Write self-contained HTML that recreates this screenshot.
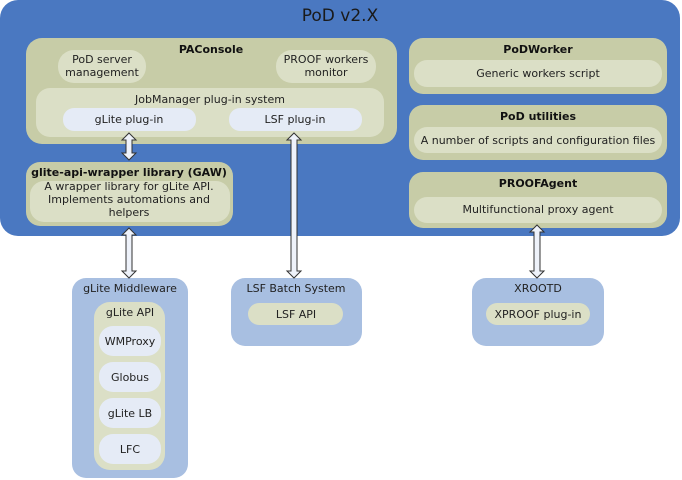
<!DOCTYPE html>
<html><head><meta charset="utf-8"><style>
html,body{margin:0;padding:0;background:#fff;}
svg{display:block;font-family:"DejaVu Sans","Liberation Sans",sans-serif;}
</style></head><body>
<svg width="682" height="480" viewBox="0 0 682 480">
<rect x="0" y="0" width="680" height="236" rx="18" fill="#4a78c1"/>
<text x="340" y="21" font-size="17" fill="#1a1a1a" text-anchor="middle">PoD v2.X</text>

<rect x="26" y="38" width="371" height="106" rx="16" fill="#c7cca7"/>
<text x="211" y="53" font-size="11" font-weight="bold" fill="#111" text-anchor="middle">PAConsole</text>
<rect x="58" y="50" width="88" height="33" rx="16" fill="#dbdfc6"/>
<text x="102" y="63" font-size="11" fill="#222" text-anchor="middle">PoD server</text>
<text x="102" y="76" font-size="11" fill="#222" text-anchor="middle">management</text>
<rect x="276" y="50" width="100" height="33" rx="16" fill="#dbdfc6"/>
<text x="326" y="63" font-size="11" fill="#222" text-anchor="middle">PROOF workers</text>
<text x="326" y="76" font-size="11" fill="#222" text-anchor="middle">monitor</text>
<rect x="36" y="88" width="348" height="49" rx="14" fill="#dbdfc6"/>
<text x="210" y="103" font-size="11" fill="#222" text-anchor="middle">JobManager plug-in system</text>
<rect x="63" y="108" width="133" height="23" rx="11" fill="#e5ebf6"/>
<text x="129" y="123" font-size="11" fill="#222" text-anchor="middle">gLite plug-in</text>
<rect x="229" y="108" width="133" height="23" rx="11" fill="#e5ebf6"/>
<text x="295" y="123" font-size="11" fill="#222" text-anchor="middle">LSF plug-in</text>

<rect x="26" y="162" width="207" height="64" rx="14" fill="#c7cca7"/>
<text x="129" y="176" font-size="11" font-weight="bold" fill="#111" text-anchor="middle">glite-api-wrapper library (GAW)</text>
<rect x="30" y="181" width="200" height="41" rx="14" fill="#dbdfc6"/>
<text x="129" y="190" font-size="11" fill="#222" text-anchor="middle">A wrapper library for gLite API.</text>
<text x="129" y="203" font-size="11" fill="#222" text-anchor="middle">Implements automations and</text>
<text x="129" y="216" font-size="11" fill="#222" text-anchor="middle">helpers</text>

<rect x="409" y="38" width="258" height="56" rx="14" fill="#c7cca7"/>
<text x="538" y="53" font-size="11" font-weight="bold" fill="#111" text-anchor="middle">PoDWorker</text>
<rect x="414" y="60" width="248" height="27" rx="13" fill="#dbdfc6"/>
<text x="538" y="77" font-size="11" fill="#222" text-anchor="middle">Generic workers script</text>
<rect x="409" y="105" width="258" height="55" rx="14" fill="#c7cca7"/>
<text x="538" y="120" font-size="11" font-weight="bold" fill="#111" text-anchor="middle">PoD utilities</text>
<rect x="414" y="127" width="248" height="26" rx="13" fill="#dbdfc6"/>
<text x="538" y="144" font-size="11" fill="#222" text-anchor="middle">A number of scripts and configuration files</text>
<rect x="409" y="172" width="258" height="56" rx="14" fill="#c7cca7"/>
<text x="538" y="187" font-size="11" font-weight="bold" fill="#111" text-anchor="middle">PROOFAgent</text>
<rect x="414" y="197" width="248" height="26" rx="13" fill="#dbdfc6"/>
<text x="538" y="213" font-size="11" fill="#222" text-anchor="middle">Multifunctional proxy agent</text>

<rect x="72" y="278" width="116" height="200" rx="14" fill="#a8bfe1"/>
<text x="130" y="292" font-size="11" fill="#222" text-anchor="middle">gLite Middleware</text>
<rect x="94" y="302" width="71" height="168" rx="16" fill="#dbdfc6"/>
<text x="130" y="316" font-size="11" fill="#222" text-anchor="middle">gLite API</text>
<rect x="99" y="326" width="62" height="30" rx="14" fill="#e5ebf6"/>
<text x="130" y="345" font-size="11" fill="#222" text-anchor="middle">WMProxy</text>
<rect x="99" y="362" width="62" height="30" rx="14" fill="#e5ebf6"/>
<text x="130" y="381" font-size="11" fill="#222" text-anchor="middle">Globus</text>
<rect x="99" y="398" width="62" height="30" rx="14" fill="#e5ebf6"/>
<text x="130" y="417" font-size="11" fill="#222" text-anchor="middle">gLite LB</text>
<rect x="99" y="434" width="62" height="30" rx="14" fill="#e5ebf6"/>
<text x="130" y="453" font-size="11" fill="#222" text-anchor="middle">LFC</text>

<rect x="231" y="278" width="131" height="68" rx="14" fill="#a8bfe1"/>
<text x="296" y="292" font-size="11" fill="#222" text-anchor="middle">LSF Batch System</text>
<rect x="248" y="303" width="95" height="22" rx="11" fill="#dbdfc6"/>
<text x="296" y="318" font-size="11" fill="#222" text-anchor="middle">LSF API</text>

<rect x="472" y="278" width="132" height="68" rx="14" fill="#a8bfe1"/>
<text x="538" y="292" font-size="11" fill="#222" text-anchor="middle">XROOTD</text>
<rect x="486" y="303" width="104" height="22" rx="11" fill="#dbdfc6"/>
<text x="538" y="318" font-size="11" fill="#222" text-anchor="middle">XPROOF plug-in</text>

<g fill="#eef2fa" stroke="#333" stroke-width="1">
<polygon points="129,133 136,140 132,140 132,153 136,153 129,160 122,153 126,153 126,140 122,140"/>
<polygon points="129,228 136,235 132,235 132,271 136,271 129,278 122,271 126,271 126,235 122,235"/>
<polygon points="294,133 301,140 297,140 297,271 301,271 294,278 287,271 291,271 291,140 287,140"/>
<polygon points="537,225 544,232 540,232 540,271 544,271 537,278 530,271 534,271 534,232 530,232"/>
</g>
</svg>
</body></html>
